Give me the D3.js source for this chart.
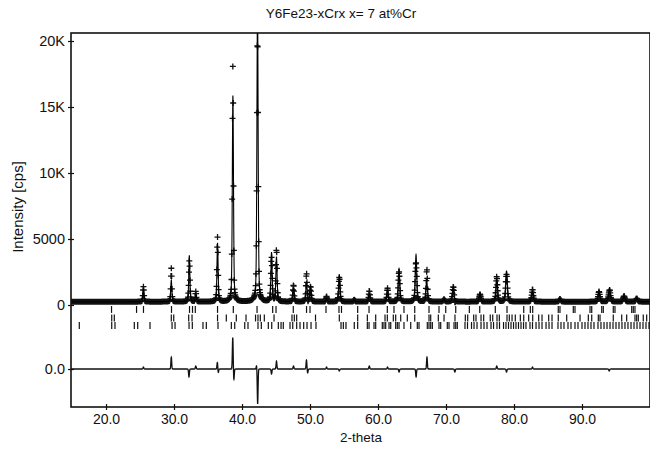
<!DOCTYPE html>
<html>
<head>
<meta charset="utf-8">
<script src="https://cdn.jsdelivr.net/npm/d3@7"></script>
<style>
body{margin:0;background:#fff;}
svg text{font-family:"Liberation Sans", Arial, sans-serif;fill:#111;}
</style>
</head>
<body>
<svg id="chart" width="650" height="450"></svg>
<script>
// peaks: 2-theta and net height of the calculated curve above background (cps)
var peakPos    = [25.5, 29.6, 32.25, 33.2, 36.4, 38.66, 42.28, 44.34, 45.07, 47.57, 49.49, 50.07, 52.43, 54.31, 56.5, 58.72, 61.4, 63.09, 65.59, 67.16, 69.71, 71.07, 75.0, 77.46, 78.9, 82.72, 86.76, 92.5, 94.04, 96.18, 98.04];
var peakHeight = [990, 1630, 3500, 530, 4450, 15600, 22600, 3700, 3370, 1035, 1470, 1140, 250, 2000, 150, 600, 860, 2500, 3550, 1630, 180, 1140, 560, 1660, 2300, 790, 200, 760, 1000, 430, 250];
var background = 250;

// obs - calc spikes (2-theta, cps)
var diffPos = [25.5, 29.6, 32.2, 33.2, 36.38, 36.5, 38.64, 38.8, 42.15, 42.3, 44.34, 45.07, 47.57, 49.48, 49.65, 52.43, 54.31, 58.72, 61.4, 63.1, 65.6, 67.2, 71.3, 77.46, 78.9, 82.72, 94.0];
var diffAmp = [150, 900, -600, 230, 530, -300, 2400, -830, 300, -2650, -380, 600, 230, 680, -300, 150, -150, 230, 150, -230, -600, 900, -230, 230, -230, 150, -150];
var diffZero = -4850;

// reflection markers, three phases
var phase1 = [20.81, 24.49, 25.51, 29.63, 32.28, 32.72, 33.13, 36.40, 38.72, 42.21, 44.51, 45.00, 47.54, 49.49, 50.00, 52.35, 54.26, 54.63, 57.01, 58.68, 61.37, 62.35, 63.82, 65.40, 67.50, 68.97, 69.96, 71.43, 73.43, 74.96, 77.25, 78.97, 81.43, 82.40, 82.75, 86.51, 86.76, 88.72, 88.97, 91.18, 91.43, 92.90, 93.13, 94.60, 94.85, 97.31, 97.54, 97.79];
var phase2 = [20.84, 21.22, 29.60, 29.96, 32.16, 32.65, 36.40, 37.69, 39.16, 40.59, 41.99, 42.35, 42.69, 43.28, 44.71, 47.35, 47.69, 48.04, 50.81, 54.31, 57.01, 58.43, 59.66, 61.03, 61.37, 62.25, 62.60, 63.34, 64.31, 65.40, 67.50, 67.75, 68.87, 69.71, 71.32, 72.84, 73.19, 74.07, 74.41, 75.15, 75.54, 76.51, 76.87, 77.50, 77.84, 78.97, 79.31, 79.71, 80.19, 80.93, 81.43, 82.16, 82.75, 83.63, 84.12, 85.10, 85.59, 86.51, 87.75, 89.71, 90.93, 91.43, 92.40, 92.65, 94.60, 95.84, 96.57, 97.79, 98.04, 98.28, 99.01, 99.51];
var phase3 = [16.07, 20.84, 21.32, 24.16, 24.66, 26.47, 29.71, 30.15, 32.21, 32.69, 34.26, 34.75, 36.47, 38.43, 38.93, 40.40, 40.88, 42.35, 42.84, 43.87, 44.37, 45.34, 45.74, 46.07, 47.06, 47.46, 48.04, 48.53, 49.07, 49.56, 50.15, 50.88, 54.56, 54.90, 55.29, 56.51, 57.01, 58.43, 58.68, 59.41, 59.66, 60.63, 60.88, 61.13, 61.62, 61.87, 62.60, 62.84, 63.09, 63.82, 64.81, 65.78, 66.03, 67.25, 67.50, 67.75, 67.99, 68.97, 69.22, 70.19, 70.44, 71.18, 71.43, 71.66, 72.79, 73.16, 73.75, 74.12, 74.56, 75.15, 75.59, 76.03, 76.62, 76.99, 77.50, 77.87, 78.46, 78.82, 79.19, 79.56, 79.93, 80.29, 80.66, 81.03, 81.40, 81.76, 82.35, 82.72, 83.24, 83.68, 84.12, 84.71, 85.15, 85.59, 86.47, 86.91, 87.35, 87.94, 88.38, 88.97, 89.41, 90.00, 90.44, 90.88, 91.32, 91.76, 92.35, 92.79, 93.24, 93.68, 94.12, 94.56, 95.00, 95.44, 95.88, 96.32, 96.76, 97.21, 97.65, 98.09, 98.53, 98.97, 99.41, 99.85];
var phaseOffset = [-340, -985, -1553];

var xTicks = [20, 30, 40, 50, 60, 70, 80, 90];
var yTicks = [diffZero, 0, 5000, 10000, 15000, 20000];
var yTickLabels = ["0.0", "0", "5000", "10K", "15K", "20K"];

var svg = d3.select("#chart");
var plotL = 71, plotR = 650, plotT = 33, plotB = 407;

var x = d3.scaleLinear().domain([14.85, 100]).range([plotL, plotR]);
var y = d3.scaleLinear().domain([-7727, 20606]).range([plotB, plotT]);

svg.append("clipPath").attr("id", "clip")
  .append("rect").attr("x", plotL).attr("y", plotT)
  .attr("width", plotR - plotL).attr("height", plotB - plotT);

// peak shape (pseudo-Voigt)
function shape(dt, w) {
  var r = dt * dt / (w * w);
  return 0.6 * Math.exp(-4 * Math.LN2 * r) + 0.4 / (1 + 4 * r);
}
function fwhm(t) { return 0.16 + 0.0018 * (t - 15); }
function calc(t) {
  var s = background;
  for (var i = 0; i < peakPos.length; i++) s += peakHeight[i] * shape(t - peakPos[i], fwhm(peakPos[i]));
  return s;
}
function diff(t) {
  var s = 0;
  for (var i = 0; i < diffPos.length; i++) s += diffAmp[i] * Math.exp(-4 * Math.LN2 * Math.pow((t - diffPos[i]) / 0.14, 2));
  return s;
}

var fine = d3.range(14.85, 100.001, 0.01);
var steps = d3.range(14.85, 100.001, 0.05);

var g = svg.append("g").attr("clip-path", "url(#clip)");

// observed crosses
var cp = "";
steps.forEach(function(t) {
  var px = x(t), py = y(calc(t) + diff(t));
  cp += "M" + (px - 3) + "," + py + "h6M" + px + "," + (py - 3) + "v6";
});
g.append("path").attr("d", cp).attr("stroke", "#111").attr("stroke-width", 1.3).attr("fill", "none");

// calculated line
g.append("path").datum(fine)
  .attr("d", d3.line().x(function(t) { return x(t); }).y(function(t) { return y(calc(t)); }))
  .attr("stroke", "#000").attr("stroke-width", 1.1).attr("fill", "none");

// difference line
g.append("path").datum(fine)
  .attr("d", d3.line().x(function(t) { return x(t); }).y(function(t) { return y(diffZero + diff(t)); }))
  .attr("stroke", "#111").attr("stroke-width", 1.3).attr("fill", "none");

// reflection markers
[phase1, phase2, phase3].forEach(function(ph, k) {
  g.selectAll(null).data(ph).enter().append("line")
    .attr("x1", function(d) { return x(d); }).attr("x2", function(d) { return x(d); })
    .attr("y1", y(phaseOffset[k] + 260)).attr("y2", y(phaseOffset[k] - 260))
    .attr("stroke", "#111").attr("stroke-width", 1.2);
});

// frame
svg.append("rect").attr("x", plotL).attr("y", plotT)
  .attr("width", plotR - plotL).attr("height", plotB - plotT)
  .attr("fill", "none").attr("stroke", "#111").attr("stroke-width", 1.6);

var ya = svg.append("g").attr("transform", "translate(" + plotL + ",0)")
  .call(d3.axisLeft(y).tickValues(yTicks).tickSize(3)
    .tickFormat(function(d, i) { return yTickLabels[i]; }));
ya.select(".domain").remove();
ya.selectAll("line").attr("x1", 3).attr("stroke", "#111").attr("stroke-width", 1.2);
ya.selectAll("text").attr("font-size", 14.5).attr("x", -6).style("font-family", "Liberation Sans, Arial, sans-serif");

var xa = svg.append("g").attr("transform", "translate(0," + plotB + ")")
  .call(d3.axisBottom(x).tickValues(xTicks).tickSize(3)
    .tickFormat(d3.format(".1f")));
xa.select(".domain").remove();
xa.selectAll("line").attr("y1", -3).attr("stroke", "#111").attr("stroke-width", 1.2);
xa.selectAll("text").attr("font-size", 14).attr("y", 7).style("font-family", "Liberation Sans, Arial, sans-serif");

svg.append("text").attr("x", 341).attr("y", 18).attr("text-anchor", "middle")
  .attr("font-size", 13.5).text("Y6Fe23-xCrx x= 7 at%Cr");
svg.append("text").attr("x", 361).attr("y", 442).attr("text-anchor", "middle")
  .attr("font-size", 13.5).text("2-theta");
svg.append("text").attr("transform", "translate(23,207) rotate(-90)").attr("text-anchor", "middle")
  .attr("font-size", 15).text("Intensity [cps]");
</script>
</body>
</html>
